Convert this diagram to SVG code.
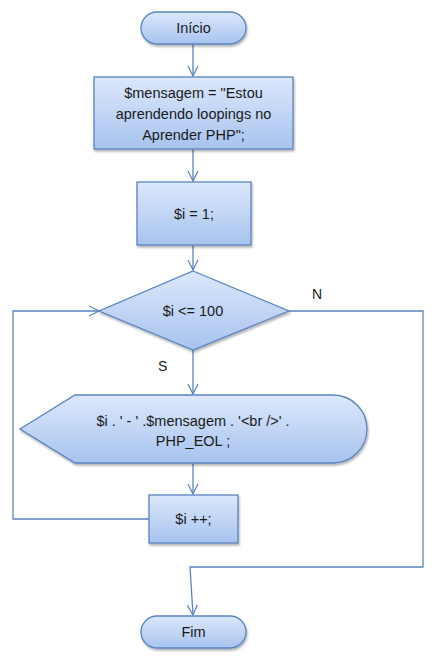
<svg xmlns="http://www.w3.org/2000/svg" width="441" height="658" viewBox="0 0 441 658">
<defs>
<linearGradient id="g" x1="0" y1="0" x2="0" y2="1">
<stop offset="0" stop-color="#dce8fb"/>
<stop offset="1" stop-color="#a7c3ef"/>
</linearGradient>
<filter id="sh" x="-10%" y="-10%" width="130%" height="140%">
<feDropShadow dx="1" dy="2" stdDeviation="1.2" flood-color="#000" flood-opacity="0.3"/>
</filter>
<marker id="ar" viewBox="0 0 12 12" refX="11" refY="6" markerWidth="12" markerHeight="12" markerUnits="userSpaceOnUse" orient="auto">
<path d="M1,1 L11,6 L1,11" fill="none" stroke="#5a84bf" stroke-width="1.2"/>
</marker>
</defs>
<style>
.n{fill:url(#g);stroke:#5a84bf;stroke-width:1.3;filter:url(#sh)}
.c{fill:none;stroke:#5a84bf;stroke-width:1.3}
.t{font-family:"Liberation Sans",Arial,sans-serif;font-size:14.5px;fill:#1a1a1a;text-anchor:middle}
.l{font-family:"Liberation Sans",Arial,sans-serif;font-size:14px;fill:#1a1a1a}
</style>
<rect width="441" height="658" fill="#fff"/>
<g id="connectors">
<line class="c" x1="193" y1="44" x2="193" y2="76" marker-end="url(#ar)"/>
<line class="c" x1="193" y1="149" x2="193" y2="181" marker-end="url(#ar)"/>
<line class="c" x1="193" y1="245" x2="193" y2="270" marker-end="url(#ar)"/>
<line class="c" x1="193" y1="350" x2="193" y2="394" marker-end="url(#ar)"/>
<line class="c" x1="193" y1="463" x2="193" y2="494" marker-end="url(#ar)"/>
<polyline class="c" points="149,519 13,519 13,311 99,311" marker-end="url(#ar)"/>
<polyline class="c" points="289,311 423,311 423,567 190,567 193,615" marker-end="url(#ar)"/>
<text class="l" x="312" y="299">N</text>
<text class="l" x="158" y="371">S</text>
</g>
<g id="inicio">
<rect class="n" x="141" y="12" width="105" height="32" rx="16" ry="16"/>
<text class="t" x="193.5" y="33">Início</text>
</g>
<g id="mensagem">
<rect class="n" x="94" y="77" width="199" height="72"/>
<text class="t" x="193.5" y="98">$mensagem = "Estou</text>
<text class="t" x="193.5" y="119">aprendendo loopings no</text>
<text class="t" x="193.5" y="140">Aprender PHP";</text>
</g>
<g id="init">
<rect class="n" x="137" y="182" width="114" height="63"/>
<text class="t" x="194" y="219">$i = 1;</text>
</g>
<g id="decisao">
<polygon class="n" points="193,271 289,311 193,350 99,311"/>
<text class="t" x="193" y="316">$i &lt;= 100</text>
</g>
<g id="saida">
<path class="n" d="M20,429 L75,395 L333,395 A34,34 0 0 1 333,463 L75,463 Z"/>
<text class="t" x="193" y="426">$i . ' - ' .$mensagem . '&lt;br /&gt;' .</text>
<text class="t" x="193" y="446">PHP_EOL ;</text>
</g>
<g id="incremento">
<rect class="n" x="149" y="495" width="89" height="48"/>
<text class="t" x="193.5" y="524">$i ++;</text>
</g>
<g id="fim">
<rect class="n" x="141" y="616" width="105" height="32" rx="16" ry="16"/>
<text class="t" x="193.5" y="637">Fim</text>
</g>
</svg>
